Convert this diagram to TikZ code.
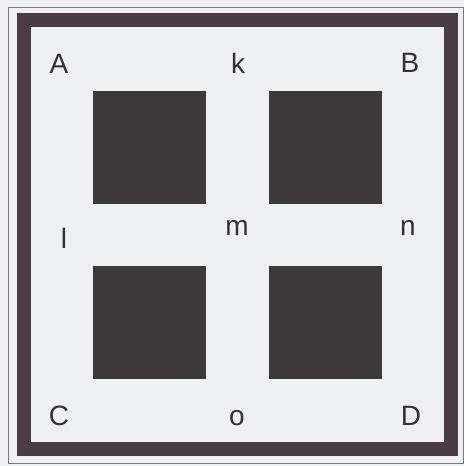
\documentclass[tikz,border=0pt]{standalone}
\usepackage{fontspec}
\setmainfont{Liberation Sans}
\definecolor{paper}{HTML}{EEF0F2}
\definecolor{frame}{HTML}{4A3C42}
\definecolor{block}{HTML}{3D393A}
\definecolor{ink}{HTML}{353133}
\tikzset{lbl/.style={anchor=base,inner sep=0pt,text=ink,font=\fontsize{28}{28}\selectfont}}
\tikzset{blk/.style={rectangle,fill=block,draw=none,minimum width=113pt,minimum height=113pt,inner sep=0pt}}

\begin{document}
\begin{tikzpicture}[x=1pt,y=-1pt]
      \fill[paper] (0,0) rectangle (464,466);
      \useasboundingbox (0,0) rectangle (464,466);
      \draw[line width=1pt,frame!70] (8,7) rectangle (463,463);
      \draw[line width=14pt,frame] (23.5,20) rectangle (450.5,448.5);
      % the four blocks
      \node[blk] (tl) at (149.5,147) {};
      \node[blk] (tr) at (325,147) {};
      \node[blk] (bl) at (149.5,322.5) {};
      \node[blk] (br) at (325,322.5) {};
      % corner and gap labels
      \node[lbl] (A) at (59,73) {A};
      \node[lbl] (k) at (238,73) {k};
      \node[lbl] (B) at (410,72) {B};
      \node[lbl] (l) at (64,248) {l};
      \node[lbl] (m) at (237,235) {m};
      \node[lbl] (n) at (408,235) {n};
      \node[lbl] (C) at (59,425) {C};
      \node[lbl] (o) at (237,425) {o};
      \node[lbl] (D) at (411,425) {D};
    \end{tikzpicture}
\end{document}
